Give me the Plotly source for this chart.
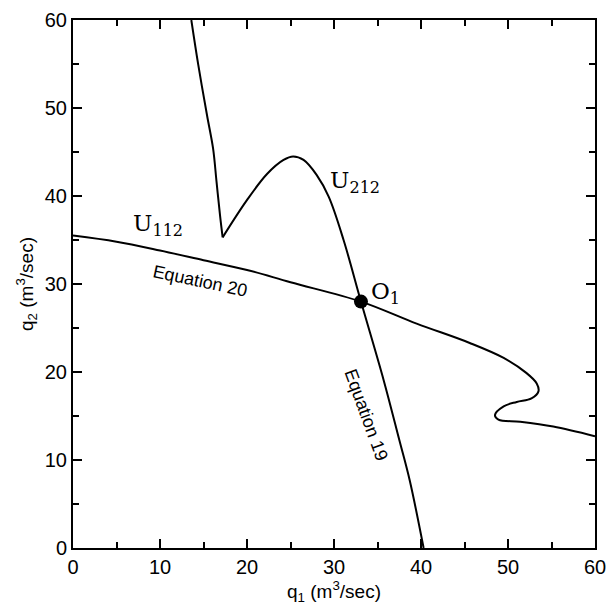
import plotly.graph_objects as go

# Equation 20 (U112 branch): q1, q2 in m^3/sec
eq20_q1 = [0.0, 5.0, 10.0, 15.0, 20.0, 25.0, 33.1, 39.5, 45.6, 49.5, 52.1, 53.3, 53.5,
           52.7, 51.0, 49.5, 48.5, 48.9, 51.4, 55.2, 60.0]
eq20_q2 = [35.5, 34.8, 33.8, 32.7, 31.6, 30.2, 28.0, 25.5, 23.3, 21.6, 19.9, 18.7, 17.8,
           17.0, 16.6, 16.1, 15.1, 14.6, 14.35, 13.8, 12.7]

# Equation 19 (U212 branch), upper limb down to the cusp
eq19a_q1 = [13.6, 14.4, 15.4, 16.1, 16.5, 16.9, 17.2]
eq19a_q2 = [60.0, 54.9, 49.2, 45.4, 41.6, 37.8, 35.3]

# Equation 19, from the cusp over the hump and down to the q1 axis
eq19b_q1 = [17.2, 19.97, 22.3, 24.2, 25.3, 26.5, 28.0, 29.4, 31.1, 33.1, 35.7, 37.5, 38.7, 40.3]
eq19b_q2 = [35.3, 39.5, 42.5, 44.1, 44.5, 44.1, 42.4, 39.9, 35.0, 28.0, 19.1, 12.3, 7.7, 0.0]

# Operating point O1
o1_q1 = [33.1]
o1_q2 = [28.0]

x_ticks = [0, 10, 20, 30, 40, 50, 60]
y_ticks = [0, 10, 20, 30, 40, 50, 60]

line_style = dict(color="black", width=2, shape="spline", smoothing=1.0)

fig = go.Figure()
fig.add_trace(go.Scatter(x=eq20_q1, y=eq20_q2, mode="lines", line=line_style))
fig.add_trace(go.Scatter(x=eq19a_q1, y=eq19a_q2, mode="lines", line=line_style))
fig.add_trace(go.Scatter(x=eq19b_q1, y=eq19b_q2, mode="lines", line=line_style))
fig.add_trace(go.Scatter(x=o1_q1, y=o1_q2, mode="markers",
                         marker=dict(color="black", size=14)))

serif = dict(family="DejaVu Serif", size=23, color="black")
sans = dict(family="Liberation Sans", size=18, color="black")

fig.add_annotation(x=9.8, y=36.7, text="U<sub>112</sub>", showarrow=False, font=serif)
fig.add_annotation(x=32.4, y=41.6, text="U<sub>212</sub>", showarrow=False, font=serif)
fig.add_annotation(x=35.9, y=29.0, text="O<sub>1</sub>", showarrow=False, font=serif)
fig.add_annotation(x=14.6, y=30.3, text="Equation 20", showarrow=False, font=sans, textangle=12)
fig.add_annotation(x=33.7, y=15.1, text="Equation 19", showarrow=False, font=sans, textangle=70)

axis_common = dict(
    showgrid=False, zeroline=False, automargin=False,
    showline=True, linecolor="black", linewidth=2, mirror="ticks",
    ticks="inside", ticklen=9, tickwidth=1.5, tickcolor="black",
    minor=dict(dtick=5, ticks="inside", ticklen=6, tickwidth=1.5, tickcolor="black"),
    tickfont=dict(family="Liberation Sans", size=20, color="black"),
)

title_font = dict(family="Liberation Sans", size=19, color="black")

fig.update_xaxes(range=[0, 60], tickvals=x_ticks, **axis_common,
                 title=dict(text="q<sub>1</sub> (m<sup>3</sup>/sec)", font=title_font, standoff=7))
fig.update_yaxes(range=[0, 60], tickvals=y_ticks, **axis_common,
                 title=dict(text="q<sub>2</sub> (m<sup>3</sup>/sec)", font=title_font, standoff=6))

fig.update_layout(
    width=609, height=606,
    margin=dict(l=73, r=14, t=20, b=58),
    paper_bgcolor="white", plot_bgcolor="white",
    showlegend=False,
)

fig.write_html("out.html")
